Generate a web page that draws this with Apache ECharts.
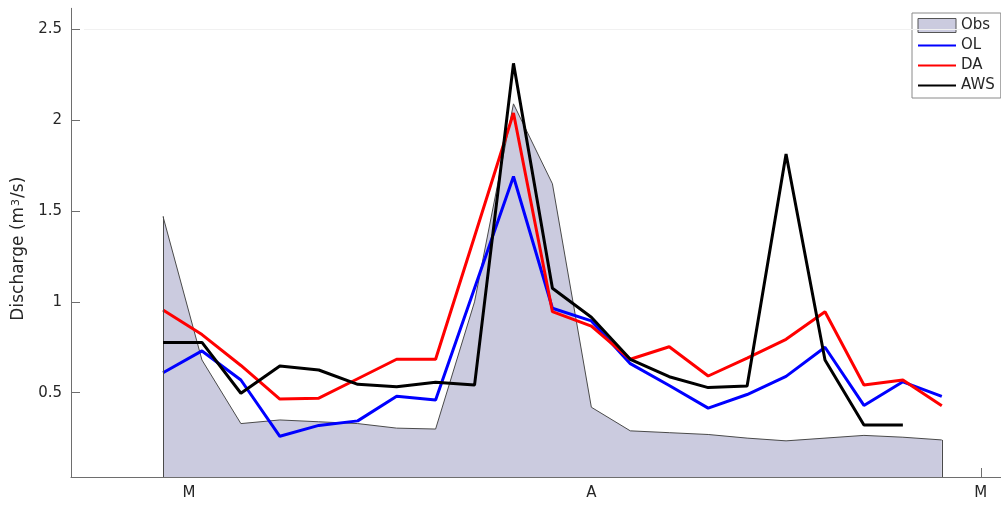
<!DOCTYPE html>
<html>
<head>
<meta charset="utf-8">
<script src="https://cdn.jsdelivr.net/npm/echarts@6/dist/echarts.min.js"></script>
<style>
html,body{margin:0;padding:0;background:#fff;}
#chart{width:1001px;height:505px;}
</style>
</head>
<body>
<div id="chart"></div>
<script>
// x positions: days relative to 1 March (3-day steps)
const days = [-2, 1, 4, 7, 10, 13, 16, 19, 22, 25, 28, 31, 34, 37, 40, 43, 46, 49, 52, 55, 58];
const obs = [1.47, 0.68, 0.33, 0.35, 0.34, 0.33, 0.305, 0.30, 1.00, 2.09, 1.65, 0.42, 0.29, 0.28, 0.27, 0.25, 0.235, 0.25, 0.265, 0.255, 0.24];
const ol  = [0.61, 0.73, 0.57, 0.26, 0.32, 0.345, 0.48, 0.46, 1.075, 1.69, 0.965, 0.895, 0.66, 0.54, 0.415, 0.49, 0.59, 0.75, 0.43, 0.56, 0.48];
const da  = [0.955, 0.82, 0.65, 0.465, 0.47, 0.577, 0.684, 0.684, 1.36, 2.04, 0.946, 0.867, 0.684, 0.753, 0.592, 0.69, 0.794, 0.946, 0.542, 0.57, 0.428];
const aws = [0.777, 0.777, 0.497, 0.647, 0.625, 0.546, 0.533, 0.557, 0.542, 2.313, 1.075, 0.915, 0.684, 0.588, 0.528, 0.537, 1.814, 0.68, 0.322, 0.322, null];

const yTicks = [0.5, 1, 1.5, 2, 2.5];
const xTicks = [0, 31, 61];
const xTickLabels = ['M', 'A', 'M'];

const yMin = 0.036, yMax = 2.616;
const xMin = -9.09, xMax = 62.56;

const pair = arr => days.map((d, i) => [d, arr[i]]);
const txt = '#262626';
const axisCol = '#6e6e6e';
const noSym = {color: 'rgba(0,0,0,0)', borderWidth: 0, opacity: 0};

const chart = echarts.init(document.getElementById('chart'), null, {renderer: 'canvas'});
chart.setOption({
  animation: false,
  backgroundColor: '#ffffff',
  textStyle: {fontFamily: 'DejaVu Sans'},
  grid: {left: 71, right: 0, top: 8.3, bottom: 28, containLabel: false},
  legend: {
    orient: 'vertical',
    left: 912, top: 13,
    padding: [5, 6, 5, 5],
    itemGap: 5,
    itemWidth: 38, itemHeight: 14,
    itemTextGap: 5,
    backgroundColor: '#ffffff',
    borderColor: '#8a8a8a', borderWidth: 1, borderRadius: 0,
    textStyle: {fontSize: 15, color: txt, fontFamily: 'DejaVu Sans'},
    data: [
      {name: 'Obs', icon: 'rect', itemStyle: {color: '#cbcbdf', borderColor: '#555', borderWidth: 1}},
      {name: 'OL', itemStyle: noSym},
      {name: 'DA', itemStyle: noSym},
      {name: 'AWS', itemStyle: noSym}
    ]
  },
  xAxis: {
    type: 'value', min: xMin, max: xMax,
    axisLine: {show: true, onZero: false, lineStyle: {color: axisCol, width: 1}},
    axisTick: {show: true, inside: true, length: 9, customValues: xTicks, lineStyle: {color: axisCol}},
    axisLabel: {
      customValues: xTicks, margin: 9, fontSize: 15, color: txt, fontFamily: 'DejaVu Sans',
      formatter: v => { const k = xTicks.indexOf(v); return k >= 0 ? xTickLabels[k] : ''; }
    },
    splitLine: {show: false}
  },
  yAxis: {
    type: 'value', min: yMin, max: yMax,
    name: 'Discharge (m{sup|3}/s)', nameLocation: 'middle', nameGap: 29, nameRotate: 90,
    nameTextStyle: {
      fontSize: 17, color: txt, fontFamily: 'DejaVu Sans', padding: [0, 12, 0, 0],
      rich: {sup: {fontSize: 11, color: txt, fontFamily: 'DejaVu Sans', verticalAlign: 'top', padding: [0, 1, 5, 1]}}
    },
    axisLine: {show: true, onZero: false, lineStyle: {color: axisCol, width: 1}},
    axisTick: {show: true, inside: true, length: 9, customValues: yTicks, lineStyle: {color: axisCol}},
    axisLabel: {customValues: yTicks, margin: 9, fontSize: 15, color: txt, fontFamily: 'DejaVu Sans'},
    splitLine: {show: false}
  },
  series: [
    {
      name: 'Obs', type: 'line', data: pair(obs), symbol: 'none', z: 1,
      lineStyle: {color: '#4a4a4a', width: 1},
      itemStyle: {color: '#cbcbdf'},
      areaStyle: {color: '#cbcbdf', opacity: 1, origin: 'start'},
      markLine: {
        silent: true, symbol: 'none', label: {show: false},
        lineStyle: {color: '#4a4a4a', width: 1, type: 'solid'},
        data: [
          [{coord: [days[0], yMin]}, {coord: [days[0], obs[0]]}],
          [{coord: [days[days.length - 1], yMin]}, {coord: [days[days.length - 1], obs[obs.length - 1]]}],
          [{coord: [xMin + 1, yTicks[yTicks.length - 1]], lineStyle: {color: '#f1f1f1', width: 1}},
           {coord: [xMax - 1, yTicks[yTicks.length - 1]]}]
        ]
      }
    },
    {name: 'OL', type: 'line', data: pair(ol), symbol: 'none', z: 3,
     lineStyle: {color: '#0000ff', width: 3}, itemStyle: {color: '#0000ff'}},
    {name: 'DA', type: 'line', data: pair(da), symbol: 'none', z: 4,
     lineStyle: {color: '#ff0000', width: 3}, itemStyle: {color: '#ff0000'}},
    {name: 'AWS', type: 'line', data: pair(aws), symbol: 'none', z: 5, connectNulls: false,
     lineStyle: {color: '#000000', width: 3}, itemStyle: {color: '#000000'}}
  ]
});
</script>
</body>
</html>
